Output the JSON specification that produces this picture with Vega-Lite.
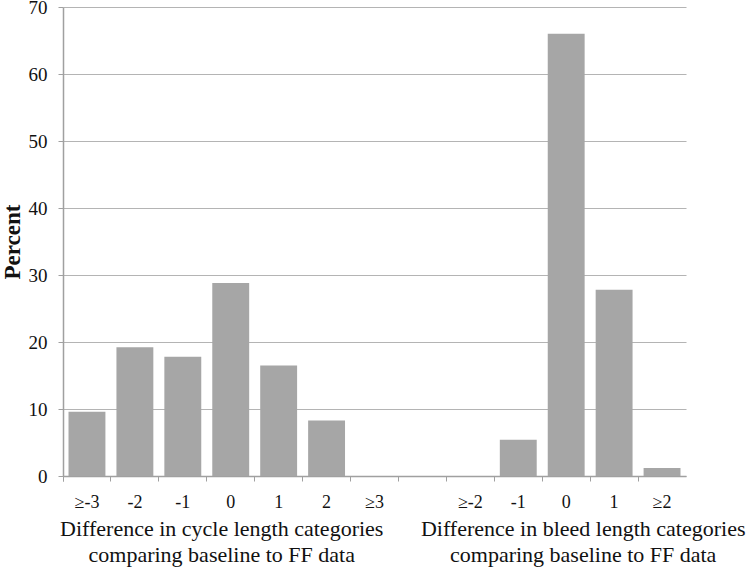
{
  "$schema": "https://vega.github.io/schema/vega-lite/v6.json",
  "width": 623,
  "height": 469,
  "autosize": {"type": "none"},
  "padding": {"left": 63, "top": 7, "right": 61, "bottom": 91},
  "background": "white",
  "config": {
    "view": {"stroke": null},
    "font": "Liberation Serif",
    "text": {"font": "Liberation Serif", "color": "#111111"}
  },
  "datasets": {
    "bars": [
      {"key": "c≥-3", "value": 9.6},
      {"key": "c-2", "value": 19.2},
      {"key": "c-1", "value": 17.8},
      {"key": "c0", "value": 28.8},
      {"key": "c1", "value": 16.5},
      {"key": "c2", "value": 8.3},
      {"key": "c≥3", "value": 0},
      {"key": "b≥-2", "value": 0},
      {"key": "b-1", "value": 5.4},
      {"key": "b0", "value": 66},
      {"key": "b1", "value": 27.8},
      {"key": "b≥2", "value": 1.2}
    ],
    "titles": [
      {"key": "c0", "value": 0, "label": "Difference in cycle length categories\ncomparing baseline to FF data"},
      {"key": "b0", "value": 0, "label": "Difference in bleed length categories\ncomparing baseline to FF data"}
    ]
  },
  "encoding": {
    "x": {
      "field": "key",
      "type": "nominal",
      "scale": {
        "domain": ["c≥-3", "c-2", "c-1", "c0", "c1", "c2", "c≥3", "gap", "b≥-2", "b-1", "b0", "b1", "b≥2"],
        "paddingInner": 0,
        "paddingOuter": 0
      },
      "axis": {
        "title": null,
        "labelExpr": "(datum.value == null || datum.value == 'gap') ? '' : substring(datum.value + '', 1)",
        "labelAngle": 0,
        "labelFont": "Liberation Serif",
        "labelFontSize": 18,
        "labelColor": "#111111",
        "labelPadding": 12,
        "bandPosition": 0,
        "tickExtra": true,
        "tickSize": 5,
        "tickColor": "#a0a0a0",
        "domainColor": "#a0a0a0",
        "domainWidth": 1.5,
        "grid": false
      }
    },
    "y": {
      "field": "value",
      "type": "quantitative",
      "scale": {"domain": [0, 70], "nice": false},
      "axis": {
        "title": "Percent",
        "titleFont": "Liberation Serif",
        "titleFontSize": 23,
        "titleFontWeight": "bold",
        "titleColor": "#111111",
        "titlePadding": 4,
        "values": [0, 10, 20, 30, 40, 50, 60, 70],
        "labelFont": "Liberation Serif",
        "labelFontSize": 19,
        "labelColor": "#111111",
        "labelPadding": 11,
        "tickSize": 5,
        "tickColor": "#a0a0a0",
        "domainColor": "#a0a0a0",
        "domainWidth": 1.5,
        "grid": true,
        "gridColor": "#b4b4b4",
        "gridWidth": 1.2
      }
    }
  },
  "layer": [
    {
      "data": {"name": "bars"},
      "mark": {"type": "bar", "color": "#a6a6a6", "width": {"band": 0.77}}
    },
    {
      "data": {"name": "titles"},
      "transform": [{"filter": "datum.key == 'c0'"}],
      "mark": {"type": "text", "font": "Liberation Serif", "fontSize": 22, "baseline": "alphabetic", "align": "center", "dy": 60, "dx": -9, "lineBreak": "\n", "lineHeight": 26},
      "encoding": {
        "text": {"field": "label"}
      }
    },
    {
      "data": {"name": "titles"},
      "transform": [{"filter": "datum.key == 'b0'"}],
      "mark": {"type": "text", "font": "Liberation Serif", "fontSize": 22, "baseline": "alphabetic", "align": "center", "dy": 60, "dx": 17, "lineBreak": "\n", "lineHeight": 26},
      "encoding": {
        "text": {"field": "label"}
      }
    }
  ]
}
